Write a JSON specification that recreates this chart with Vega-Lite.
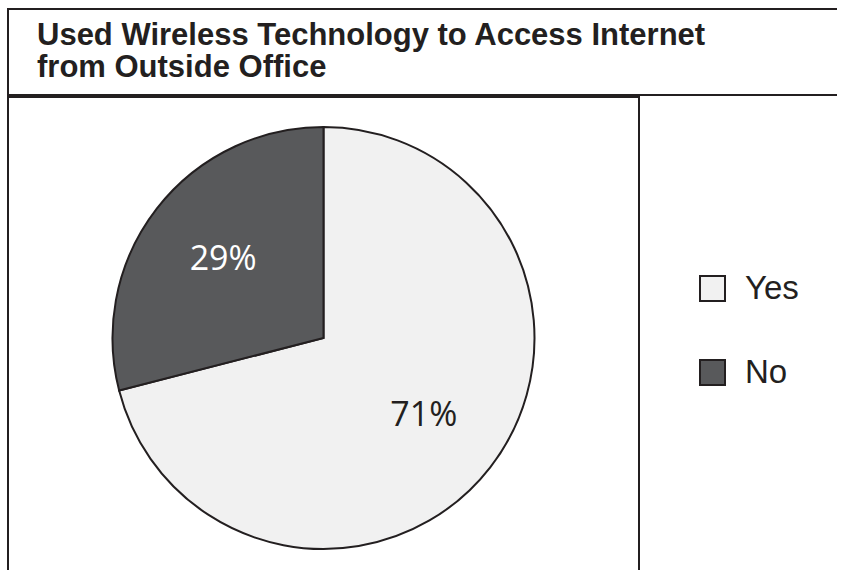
{
  "$schema": "https://vega.github.io/schema/vega-lite/v6.json",
  "background": "white",
  "padding": {"left": 7, "top": 8, "right": -6, "bottom": -10},
  "spacing": 0,
  "resolve": {"scale": {"color": "shared"}, "legend": {"color": "shared"}},
  "config": {
    "view": {"stroke": "#231f20", "strokeWidth": 2},
    "concat": {"spacing": 0}
  },
  "vconcat": [
    {
      "width": 834,
      "height": 86,
      "view": {"stroke": "#231f20", "strokeWidth": 2, "strokeDash": [834, 86, 920]},
      "title": {
        "text": ["Used Wireless Technology to Access Internet", "from Outside Office"],
        "anchor": "start",
        "frame": "group",
        "orient": "top",
        "baseline": "top",
        "offset": -75,
        "dx": 29,
        "font": "Liberation Sans",
        "fontSize": 31,
        "fontWeight": "bold",
        "lineHeight": 32,
        "color": "#231f20"
      },
      "data": {"values": []},
      "mark": {"type": "text"},
      "encoding": {}
    },
    {
      "spacing": 0,
      "resolve": {"scale": {"color": "shared"}, "legend": {"color": "shared"}},
      "hconcat": [
        {
          "width": 631,
          "height": 482,
          "view": {"stroke": "#231f20", "strokeWidth": 2, "strokeDash": [1113, 631, 482]},
          "data": {"values": [
            {"answer": "Yes", "pct": 71, "label": "71%"},
            {"answer": "No", "pct": 29, "label": "29%"}
          ]},
          "encoding": {
            "theta": {"field": "pct", "type": "quantitative", "stack": true},
            "order": {"field": "pct", "sort": "descending"}
          },
          "layer": [
            {
              "mark": {"type": "arc", "outerRadius": 211, "stroke": "#231f20", "strokeWidth": 2},
              "encoding": {
                "color": {
                  "field": "answer",
                  "type": "nominal",
                  "scale": {"domain": ["Yes", "No"], "range": ["#f1f1f1", "#58595b"]},
                  "legend": {
                    "orient": "none",
                    "legendX": 688,
                    "legendY": 263,
                    "title": null,
                    "padding": 0,
                    "symbolType": "square",
                    "symbolSize": 625,
                    "symbolStrokeColor": "#231f20",
                    "symbolStrokeWidth": 2,
                    "symbolOpacity": 1,
                    "labelFont": "Liberation Sans",
                    "labelFontSize": 33,
                    "labelColor": "#231f20",
                    "labelOffset": 16,
                    "rowPadding": 50
                  }
                }
              }
            },
            {
              "mark": {"type": "text", "radius": 127, "font": "Open Sans", "fontSize": 34, "align": "center", "baseline": "middle"},
              "encoding": {
                "text": {"field": "label"},
                "color": {
                  "condition": {"test": "datum.answer === 'No'", "value": "#ffffff"},
                  "value": "#231f20"
                }
              }
            }
          ]
        },
        {
          "width": 203,
          "height": 482,
          "view": {"stroke": null},
          "data": {"values": []},
          "mark": {"type": "text"},
          "encoding": {}
        }
      ]
    }
  ]
}
